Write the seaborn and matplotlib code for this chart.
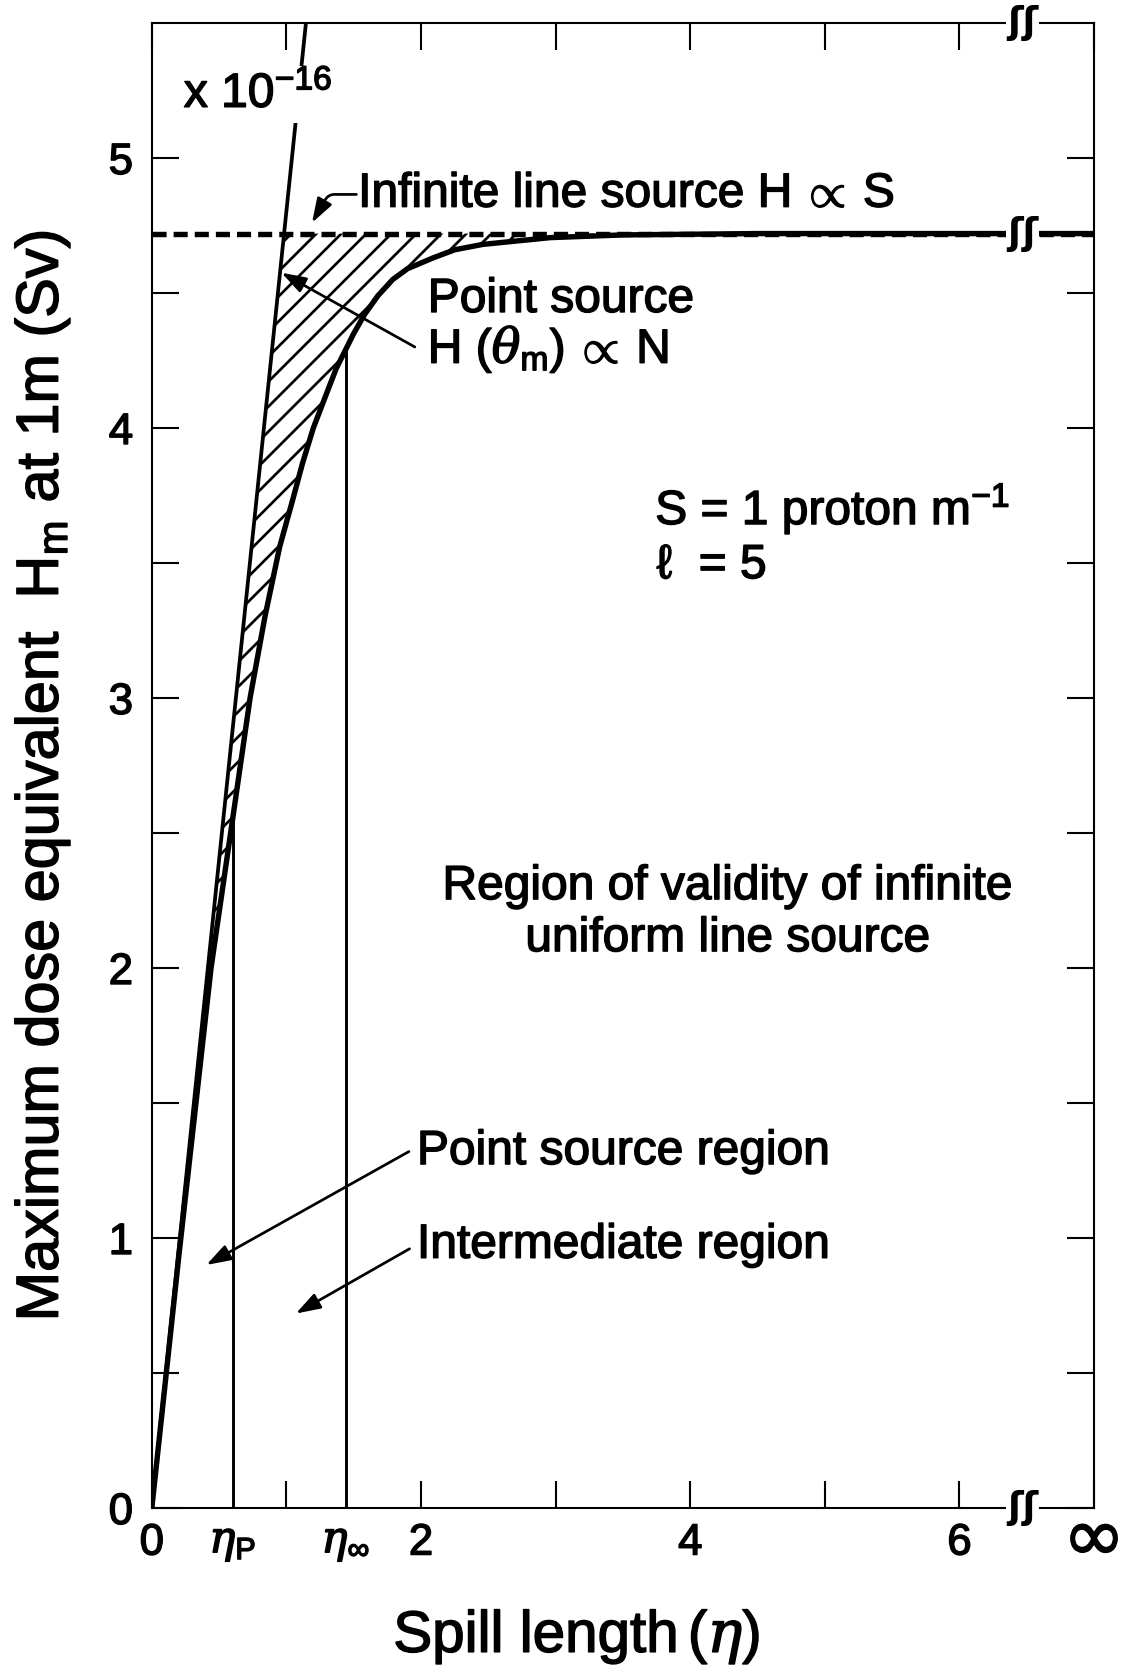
import numpy as np
import matplotlib
matplotlib.use("Agg")
import matplotlib.pyplot as plt
import matplotlib.patheffects as pe
from matplotlib.transforms import ScaledTranslation
import seaborn as sns

# ---------------- data ----------------
eta_p = 0.60          # spill length limit of point-source region
eta_inf = 1.44        # spill length beyond which line source is valid
h_inf = 4.72          # infinite line source level (x 1e-16 Sv)

steep_x = [0.0, 1.145]            # point source H(theta_m) ∝ N line
steep_y = [0.0, 5.50]

curve_x = [0.0, 0.20, 0.44, 0.60, 0.73, 0.84, 0.95, 1.05, 1.12, 1.20, 1.30, 1.37,
           1.44, 1.50, 1.58, 1.68, 1.79, 1.90, 2.09, 2.25, 2.46, 2.96, 3.50, 4.50, 7.00]
curve_y = [0.0, 0.93, 2.00, 2.55, 3.00, 3.30, 3.56, 3.74, 3.87, 4.00, 4.13, 4.22,
           4.29, 4.35, 4.42, 4.49, 4.55, 4.59, 4.63, 4.66, 4.68, 4.705, 4.715, 4.72, 4.72]

line_x = [0.0, 7.0]
line_y = [h_inf, h_inf]

xtick_pos = [0, eta_p, 1, eta_inf, 2, 3, 4, 5, 6, 7]
xtick_labels = ["0", r"$\eta_\mathsf{P}$", "", r"$\eta_\infty$", "2", "", "4", "", "6", "∞"]
ytick_pos = [0, 0.5, 1, 1.5, 2, 2.5, 3, 3.5, 4, 4.5, 5]
ytick_labels = ["0", "", "1", "", "2", "", "3", "", "4", "", "5"]
break_x = 6.47

# ---------------- style ----------------
sns.set_theme(style="ticks")
FAM = ["Liberation Sans", "DejaVu Sans"]
plt.rcParams["font.family"] = FAM
plt.rcParams["text.color"] = "black"
plt.rcParams["axes.labelcolor"] = "black"
plt.rcParams["mathtext.fontset"] = "custom"
plt.rcParams["mathtext.rm"] = "Liberation Sans"
plt.rcParams["mathtext.sf"] = "Liberation Sans"
plt.rcParams["mathtext.it"] = "DejaVu Serif:italic"
plt.rcParams["hatch.linewidth"] = 1.3
plt.rcParams["hatch.color"] = "black"

BOLD = [pe.withStroke(linewidth=0.7, foreground="black")]

DPI = 150
fig = plt.figure(figsize=(1133 / DPI, 1677 / DPI), dpi=DPI)
fig.patch.set_facecolor("white")
ax = fig.add_axes([0.134, 0.1008, 0.8316, 0.8855])
ax.set_facecolor("white")

# hatched region between the point-source line and the actual curve
yy = np.linspace(0, h_inf, 800)
xs = np.interp(yy, steep_y, steep_x)
xc = np.interp(yy, curve_y[:-1], curve_x[:-1])
ax.fill_betweenx(yy, xs, xc, where=xc > xs, facecolor="none",
                 edgecolor="black", hatch="//", linewidth=0, zorder=1)

# dashed infinite line source
sns.lineplot(x=line_x, y=line_y, ax=ax, color="black", lw=2.6,
             linestyle=(0, (2.6, 1.3)), zorder=3)
# steep point-source line
sns.lineplot(x=steep_x, y=steep_y, ax=ax, color="black", lw=1.8,
             sort=False, estimator=None, zorder=3)
# actual curve
sns.lineplot(x=curve_x, y=curve_y, ax=ax, color="black", lw=2.6,
             sort=False, estimator=None, zorder=4)

# vertical region boundaries
ax.vlines([eta_p, eta_inf], 0, np.interp([eta_p, eta_inf], curve_x, curve_y),
          color="black", lw=1.4, zorder=3)

ax.set_xlim(0, 7)
ax.set_ylim(0, 5.5)

# ticks
ax.set_xticks(xtick_pos)
ax.set_xticklabels(xtick_labels)
ax.set_yticks(ytick_pos)
ax.set_yticklabels(ytick_labels)
ax.tick_params(axis="both", direction="in", length=13, width=1.0,
               colors="black", labelsize=21, top=True, right=True)
ax.tick_params(axis="y", pad=9)
ax.tick_params(axis="x", pad=7)
for i, t in enumerate(ax.xaxis.get_major_ticks()):
    if xtick_pos[i] in (eta_p, eta_inf):
        t.tick2line.set_visible(False)
        t.tick1line.set_visible(False)
for lab in ax.get_xticklabels() + ax.get_yticklabels():
    lab.set_path_effects(BOLD)
inf_lab = ax.get_xticklabels()[-1]
inf_lab.set_fontsize(36)
inf_lab.set_family(["DejaVu Sans"])
inf_lab.set_transform(inf_lab.get_transform() + ScaledTranslation(0, 9 / 72, fig.dpi_scale_trans))

for s in ax.spines.values():
    s.set_linewidth(1.0)
    s.set_color("black")

# axis labels
ax.set_ylabel(r"Maximum dose equivalent  H$_\mathsf{m}$ at 1m (Sv)", fontsize=28.5)
ax.yaxis.set_label_coords(-0.116, 0.493)
ax.yaxis.label.set_va("center")
ax.yaxis.label.set_path_effects(BOLD)
ax.set_xlabel(r"Spill length$\,$($\eta$)", fontsize=28)
ax.xaxis.set_label_coords(0.451, -0.087)
ax.xaxis.label.set_va("center")
ax.xaxis.label.set_path_effects(BOLD)

# axis break marks
for by in (5.5, h_inf, 0.0):
    ax.text(break_x, by, "ʃʃ", fontsize=18, family=["DejaVu Sans"], fontweight="bold",
            ha="center", va="center", clip_on=False, zorder=6,
            bbox=dict(facecolor="white", edgecolor="none", pad=0.3))

# annotations
def label(x, y, s, **kw):
    kw.setdefault("fontsize", 23)
    kw.setdefault("ha", "left")
    kw.setdefault("va", "center")
    t = ax.text(x, y, s, **kw)
    t.set_path_effects(BOLD)
    return t

label(0.238, 5.235, r"x 10$^{-16}$", zorder=7,
      bbox=dict(facecolor="white", edgecolor="none", pad=3))

arrow = dict(arrowstyle="-|>,head_length=0.45,head_width=0.15", color="black",
             lw=1.3, shrinkA=0, shrinkB=0, mutation_scale=22)

label(1.533, 4.865, r"Infinite line source H$\,{\propto}\,$S")
ax.annotate("", xy=(1.19, 4.76), xytext=(1.52, 4.865),
            arrowprops=dict(arrow, connectionstyle="angle,angleA=0,angleB=60,rad=6"))

label(2.05, 4.476, "Point source")
label(2.05, 4.29, r"H ($\theta_\mathsf{m}$)$\,{\propto}\,$N")
ax.annotate("", xy=(0.963, 4.575), xytext=(1.954, 4.30), arrowprops=arrow)

label(3.74, 3.70, r"S = 1 proton m$^{-1}$")
label(3.75, 3.49, "ℓ  = 5")

label(4.28, 2.205, "Region of validity of infinite\nuniform line source",
      ha="center", linespacing=1.2)

label(1.97, 1.32, "Point source region")
ax.annotate("", xy=(0.405, 0.90), xytext=(1.91, 1.32), arrowprops=arrow)
label(1.97, 0.973, "Intermediate region")
ax.annotate("", xy=(1.07, 0.72), xytext=(1.915, 0.96), arrowprops=arrow)

fig.savefig("out.png", dpi=DPI)
